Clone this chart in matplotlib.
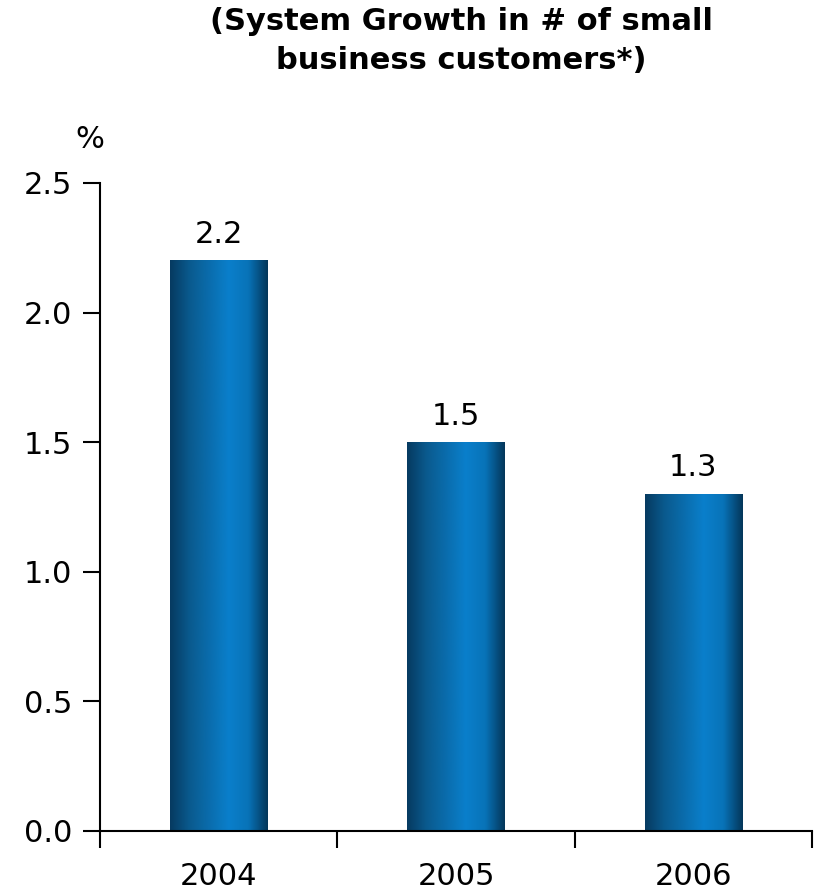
import numpy as np
import matplotlib
matplotlib.use("Agg")
import matplotlib.pyplot as plt
from matplotlib.colors import LinearSegmentedColormap

categories = ["2004", "2005", "2006"]
values = [2.2, 1.5, 1.3]
yticks = [0.0, 0.5, 1.0, 1.5, 2.0, 2.5]
title = "(System Growth in # of small\nbusiness customers*)"

plt.rcParams['font.family'] = ['DejaVu Sans']

fig = plt.figure(figsize=(8.19, 8.93), dpi=100)
ax = fig.add_axes([100/819, 1-831/893, 712/819, (831-183)/893])

x = np.arange(len(categories))
bars = ax.bar(x, values, width=0.41, color='none', edgecolor='none', zorder=2)

cmap = LinearSegmentedColormap.from_list(
    "g", [(0.0, "#063a60"), (0.2, "#0a5a8e"), (0.6, "#0a7fcb"), (0.8, "#0873b8"), (1.0, "#043659")])
grad = np.linspace(0, 1, 256).reshape(1, -1)
for b in bars:
    x0, y0 = b.get_x(), b.get_y()
    w, h = b.get_width(), b.get_height()
    ax.imshow(grad, cmap=cmap, aspect='auto', extent=[x0, x0 + w, y0, y0 + h],
              interpolation='bicubic', zorder=2)
    ax.text(x0 + w/2, y0 + h + 0.045, f"{h:.1f}", ha='center', va='bottom', fontsize=22)

ax.set_xlim(-0.5, len(categories) - 0.5)
ax.set_ylim(0, 2.5)
ax.set_yticks(yticks)
ax.set_yticklabels([f"{t:.1f}" for t in yticks], fontsize=22)
ax.set_xticks(x)
ax.set_xticklabels(categories, fontsize=22)
ax.tick_params(axis='x', length=0, pad=22)
ax.set_xticks(np.arange(-0.5, len(categories)), minor=True)
ax.tick_params(axis='x', which='minor', length=12, width=1.5, direction='out')
ax.tick_params(axis='y', length=12, width=1.5, direction='out', pad=8)
for s in ['top', 'right']:
    ax.spines[s].set_visible(False)
ax.spines['left'].set_linewidth(1.5)
ax.spines['bottom'].set_linewidth(1.5)

fig.text(90/819, 1-140/893, "%", ha='center', va='center', fontsize=22)
fig.text(461/819, 1-41/893, title, ha='center', va='center', fontsize=22,
         fontweight='bold', linespacing=1.4)

fig.savefig("out.png", dpi=100)
